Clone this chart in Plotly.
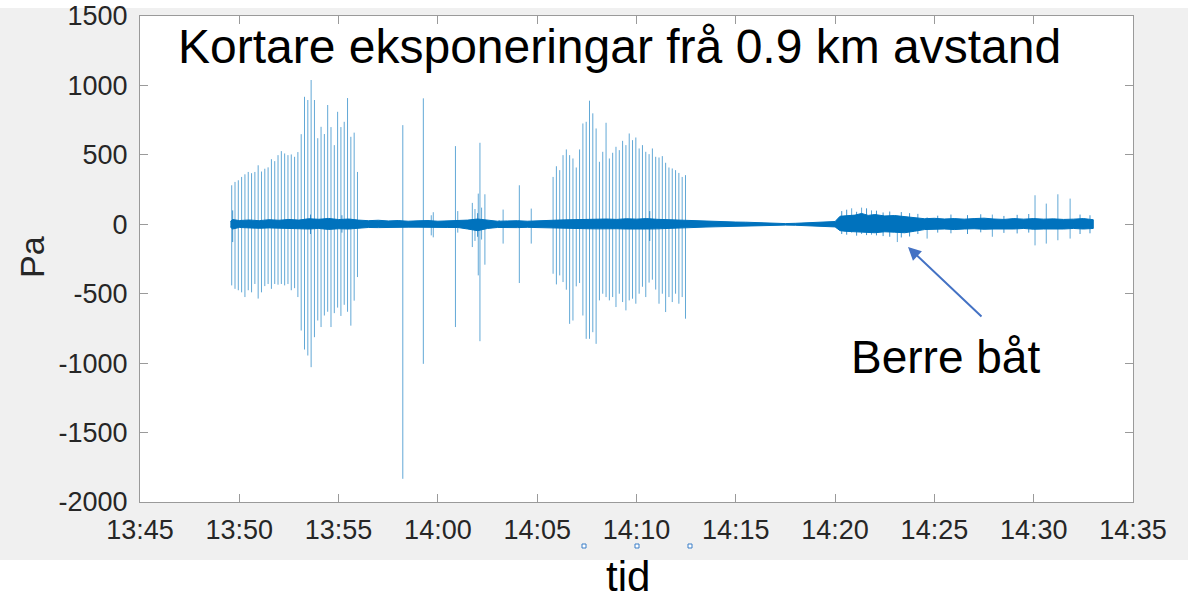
import plotly.graph_objects as go

DAY = "2024-01-01 "

# ---- data (times as hh:mm:ss, pressures in Pa) ----
c1_times = ["13:49:37", "13:49:47", "13:49:57", "13:50:07", "13:50:17", "13:50:27", "13:50:37",
            "13:50:47", "13:50:57", "13:51:07", "13:51:17", "13:51:27", "13:51:37", "13:51:47",
            "13:51:57", "13:52:07", "13:52:17", "13:52:27", "13:52:37", "13:52:47", "13:52:57",
            "13:53:07", "13:53:17", "13:53:27", "13:53:37", "13:53:47", "13:53:57", "13:54:07",
            "13:54:17", "13:54:27", "13:54:37", "13:54:47", "13:54:57", "13:55:07", "13:55:17",
            "13:55:27", "13:55:37", "13:55:47", "13:55:57"]
c1_hi = [281, 305, 317, 341, 360, 377, 368, 377, 425, 380, 400, 410, 469, 455, 498, 527, 510,
         498, 503, 486, 520, 649, 918, 895, 1039, 895, 620, 702, 650, 859, 700, 570, 810, 700,
         738, 909, 630, 660, 377]
c1_lo = [-440, -465, -475, -490, -524, -475, -490, -430, -535, -490, -445, -430, -465, -430,
         -435, -430, -440, -430, -475, -460, -524, -765, -902, -945, -1029, -813, -693, -740,
         -657, -630, -740, -640, -600, -660, -580, -630, -730, -550, -380]

mid_times = ["13:58:14", "13:59:16", "13:59:40", "13:59:46", "14:00:53", "14:01:00", "14:01:44",
             "14:01:52", "14:02:02", "14:02:07", "14:02:12", "14:02:22", "14:03:05", "14:03:17",
             "14:04:06", "14:04:42"]
mid_hi = [714, 907, 65, 87, 563, 95, 154, 110, 221, 587, 120, 216, 30, 106, 281, 113]
mid_lo = [-1833, -1005, -80, -94, -740, -60, -164, -120, -368, -842, -110, -291, -20, -139,
          -423, -139]

c2_times = ["14:05:48", "14:05:58", "14:06:08", "14:06:18", "14:06:28", "14:06:38", "14:06:48",
            "14:06:58", "14:07:08", "14:07:18", "14:07:28", "14:07:38", "14:07:48", "14:07:58",
            "14:08:08", "14:08:18", "14:08:28", "14:08:38", "14:08:48", "14:08:58", "14:09:08",
            "14:09:18", "14:09:28", "14:09:38", "14:09:48", "14:09:58", "14:10:08", "14:10:18",
            "14:10:28", "14:10:38", "14:10:48", "14:10:58", "14:11:08", "14:11:18", "14:11:28",
            "14:11:38", "14:11:48", "14:11:58", "14:12:08", "14:12:18", "14:12:28"]
c2_hi = [341, 418, 390, 498, 539, 498, 474, 409, 539, 726, 738, 890, 799, 690, 450, 522, 731,
         474, 515, 558, 534, 601, 570, 654, 606, 625, 546, 570, 522, 505, 546, 486, 481, 491,
         443, 409, 402, 390, 370, 341, 354]
c2_lo = [-356, -433, -368, -416, -471, -717, -693, -447, -423, -657, -825, -825, -777, -861,
         -548, -500, -524, -548, -524, -596, -500, -560, -620, -548, -536, -572, -500, -450,
         -524, -420, -399, -470, -572, -500, -632, -524, -560, -500, -572, -524, -680]

late_times = ["14:20:50", "14:21:20", "14:21:50", "14:23:08", "14:24:38", "14:27:55",
              "14:30:04", "14:30:38", "14:31:13", "14:31:50"]
late_hi = [115, 120, 100, 60, 50, 70, 209, 149, 216, 185]
late_lo = [-60, -70, -75, -128, -103, -90, -152, -139, -115, -103]

# small noise excursions poking out of the band (boat period and later)
fuzz_times = ["13:49:40", "13:53:35", "13:55:10", "14:02:00", "14:10:40", "14:20:20",
              "14:20:35", "14:21:05", "14:21:35", "14:22:05", "14:22:25", "14:22:45",
              "14:23:20", "14:23:45", "14:24:10", "14:25:10", "14:25:50", "14:26:40",
              "14:27:20", "14:28:30", "14:29:10", "14:29:45", "14:32:20", "14:32:50"]
fuzz_hi = [100, 70, 65, 80, 95, 95, 105, 90, 115, 98, 85, 92, 88, 80, 75, 62, 70, 66, 72, 60,
           68, 74, 70, 65]
fuzz_lo = [-128, -70, -60, -90, -120, -70, -75, -82, -78, -80, -85, -90, -95, -88, -70, -60,
           -65, -70, -58, -62, -66, -60, -70, -65]

band_times = ["13:49:33", "13:49:40", "13:50:00", "13:50:30", "13:51:00", "13:51:30", "13:52:00",
              "13:52:30", "13:53:00", "13:53:30", "13:54:00", "13:54:30", "13:55:00", "13:55:30",
              "13:56:00", "13:56:30", "13:57:00", "13:57:30", "13:58:00", "13:58:30", "13:59:00",
              "13:59:30", "14:00:00", "14:00:30", "14:01:00", "14:01:30", "14:02:00", "14:02:30",
              "14:03:00", "14:03:30", "14:04:00", "14:04:30", "14:05:00", "14:05:30", "14:06:00",
              "14:06:30", "14:07:00", "14:07:30", "14:08:00", "14:08:30", "14:09:00", "14:09:30",
              "14:10:00", "14:10:30", "14:11:00", "14:11:30", "14:12:00", "14:12:30", "14:13:00",
              "14:13:30", "14:14:00", "14:14:30", "14:15:00", "14:15:30", "14:16:00", "14:16:30",
              "14:17:00", "14:17:30", "14:18:00", "14:18:30", "14:19:00", "14:19:30", "14:20:00",
              "14:20:15", "14:20:30", "14:21:00", "14:21:20", "14:21:40", "14:22:00", "14:22:30",
              "14:23:00", "14:23:30", "14:24:00", "14:24:30", "14:25:00", "14:25:30", "14:26:00",
              "14:26:30", "14:27:00", "14:27:30", "14:28:00", "14:28:30", "14:29:00", "14:29:30",
              "14:30:00", "14:30:30", "14:31:00", "14:31:30", "14:32:00", "14:32:30", "14:33:00"]
band_hi = [20, 34, 27, 31, 26, 33, 29, 35, 30, 40, 36, 42, 34, 38, 30, 26, 29, 24, 27, 22, 25,
           27, 22, 25, 26, 30, 38, 30, 22, 24, 26, 22, 26, 28, 30, 32, 34, 36, 33, 38, 35, 40,
           37, 41, 36, 33, 31, 30, 24, 21, 19, 18, 16, 15, 12, 10, 7, 5, 7, 10, 13, 16, 20,
           58, 62, 66, 78, 64, 70, 60, 63, 56, 52, 40, 43, 38, 41, 37, 41, 44, 38, 35, 41, 37,
           41, 37, 39, 35, 37, 41, 33]
band_lo = [-20, -34, -23, -27, -29, -26, -31, -29, -32, -34, -30, -37, -32, -34, -29, -23, -24,
           -23, -23, -21, -21, -23, -21, -23, -23, -34, -46, -30, -23, -23, -24, -22, -24, -26,
           -29, -30, -30, -32, -33, -34, -32, -34, -36, -34, -33, -31, -30, -29, -23, -20, -18,
           -17, -15, -13, -11, -9, -7, -6, -7, -10, -13, -15, -19, -46, -50, -54, -55, -57,
           -61, -54, -57, -61, -50, -38, -36, -34, -38, -34, -32, -36, -34, -32, -34, -30, -36,
           -34, -32, -34, -30, -34, -30]

y_ticks = [1500, 1000, 500, 0, -500, -1000, -1500, -2000]
y_labels = ["1500", "1000", "500", "0", "-500", "-1000", "-1500", "-2000"]
x_ticks = ["13:45", "13:50", "13:55", "14:00", "14:05", "14:10", "14:15", "14:20", "14:25",
           "14:30", "14:35"]

# ---- build traces ----
spike_x, spike_y = [], []
for times, hi, lo in [(c1_times, c1_hi, c1_lo), (mid_times, mid_hi, mid_lo),
                      (c2_times, c2_hi, c2_lo), (late_times, late_hi, late_lo)]:
    for t, h, l in zip(times, hi, lo):
        spike_x += [DAY + t, DAY + t, None]
        spike_y += [h, l, None]

fuzz_x, fuzz_y = [], []
for t, h, l in zip(fuzz_times, fuzz_hi, fuzz_lo):
    fuzz_x += [DAY + t, DAY + t, None]
    fuzz_y += [h, l, None]

band_x = [DAY + t for t in band_times] + [DAY + t for t in band_times[::-1]]
band_y = band_hi + band_lo[::-1]

BLUE = "#0072BD"
fig = go.Figure()
fig.add_trace(go.Scatter(x=spike_x, y=spike_y, mode="lines",
                         line=dict(color="rgba(0,114,189,0.62)", width=1), hoverinfo="skip"))
fig.add_trace(go.Scatter(x=fuzz_x, y=fuzz_y, mode="lines",
                         line=dict(color="rgba(0,114,189,0.75)", width=1), hoverinfo="skip"))
fig.add_trace(go.Scatter(x=band_x, y=band_y, mode="lines", fill="toself", fillcolor=BLUE,
                         line=dict(color=BLUE, width=1), hoverinfo="skip"))

L, R, T, B = 140, 1133, 16, 502
W, H = 1188, 602


def px(x):
    return (x - L) / (R - L)


def py(y):
    return (B - y) / (B - T)


FONT = "Liberation Sans, Arial, sans-serif"
axis_common = dict(showgrid=False, zeroline=False, showline=True, linecolor="#9a9a9a",
                   linewidth=1, mirror="ticks", ticks="inside", ticklen=8, tickcolor="#9a9a9a",
                   automargin=False,
                   tickfont=dict(family=FONT, size=27, color="#262626"))

fig.update_layout(
    width=W, height=H,
    margin=dict(l=L, r=W - R, t=T, b=H - B, autoexpand=False),
    paper_bgcolor="#f0f0f0", plot_bgcolor="white",
    showlegend=False,
    xaxis=dict(type="date", range=[DAY + "13:45", DAY + "14:35"],
               tickvals=[DAY + t for t in x_ticks], ticktext=x_ticks,
               ticklabelstandoff=4, **axis_common),
    yaxis=dict(range=[-2000, 1500], tickvals=y_ticks, ticktext=y_labels,
               ticklabelstandoff=6, **axis_common),
    shapes=[
        dict(type="rect", xref="paper", yref="paper", x0=px(0), x1=px(W), y0=py(0), y1=py(8),
             fillcolor="white", line=dict(width=0), layer="below"),
        dict(type="rect", xref="paper", yref="paper", x0=px(0), x1=px(W), y0=py(560), y1=py(H),
             fillcolor="white", line=dict(width=0), layer="below"),
    ] + [dict(type="rect", xref="paper", yref="paper", x0=px(cx - 2), x1=px(cx + 2),
              y0=py(548), y1=py(544), fillcolor="white", line=dict(color="#3a7fc8", width=1))
         for cx in (584, 637, 690)],
    annotations=[
        dict(text="Kortare eksponeringar frå 0.9 km avstand", xref="paper", yref="paper",
             x=px(619), y=py(46), xanchor="center", yanchor="middle", showarrow=False,
             font=dict(family=FONT, size=48, color="black")),
        dict(text="Berre båt", xref="paper", yref="paper", x=px(945), y=py(357),
             xanchor="center", yanchor="middle", showarrow=False,
             font=dict(family=FONT, size=46, color="black")),
        dict(text="tid", xref="paper", yref="paper", x=px(628), y=py(576),
             xanchor="center", yanchor="middle", showarrow=False,
             font=dict(family=FONT, size=42, color="black")),
        dict(text="Pa", xref="paper", yref="paper", x=px(32), y=py(257), textangle=-90,
             xanchor="center", yanchor="middle", showarrow=False,
             font=dict(family=FONT, size=34, color="#262626")),
        dict(text="", xref="paper", yref="paper", x=px(908), y=py(247), showarrow=True,
             ax=983 - 908, ay=318 - 247, arrowhead=2, arrowsize=1.3, arrowwidth=2,
             arrowcolor="#4472C4"),
    ],
)

fig.write_html("out.html")
